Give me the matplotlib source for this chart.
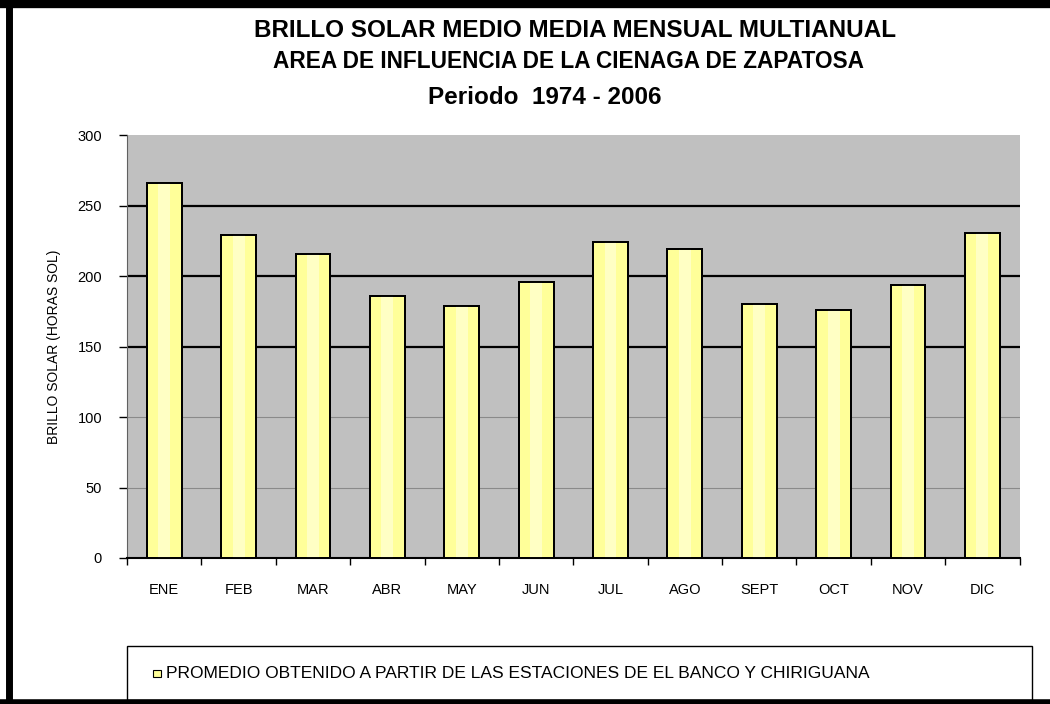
import matplotlib.pyplot as plt
import numpy as np
from matplotlib.lines import Line2D
from matplotlib.patches import Rectangle

plt.rcParams['font.family'] = ['Liberation Sans', 'DejaVu Sans']

meses = ['ENE', 'FEB', 'MAR', 'ABR', 'MAY', 'JUN', 'JUL', 'AGO', 'SEPT', 'OCT', 'NOV', 'DIC']
brillo = [266, 229, 216, 186, 179, 196, 224, 219, 180, 176, 194, 231]
yticks = [0, 50, 100, 150, 200, 250, 300]

titulo = ['BRILLO SOLAR MEDIO MEDIA MENSUAL MULTIANUAL',
          'AREA DE INFLUENCIA DE LA CIENAGA DE ZAPATOSA',
          'Periodo  1974 - 2006']
leyenda = 'PROMEDIO OBTENIDO A PARTIR DE LAS ESTACIONES DE EL BANCO Y CHIRIGUANA'

fig = plt.figure(figsize=(10.5, 7.04), dpi=100)
ax = fig.add_axes([0.121, 0.2074, 0.850, 0.6004])
ax.set_facecolor('#C0C0C0')

x = np.arange(len(meses))
ax.bar(x, brillo, width=0.47, color='#FFFF99', edgecolor='black', linewidth=1.4, zorder=3)
# lighter stripe down the middle of each bar
ax.bar(x, brillo, width=0.16, color='#FFFFC4', linewidth=0, zorder=3.5)
ax.bar(x, brillo, width=0.47, color='none', edgecolor='black', linewidth=1.4, zorder=4)

# gridlines: the upper ones are drawn heavier
for v in yticks[1:-1]:
    if v >= 150:
        ax.axhline(v, color='black', lw=1.6, zorder=1)
    else:
        ax.axhline(v, color='#8a8a8a', lw=0.8, zorder=1)

ax.set_xlim(-0.5, len(meses) - 0.5)
ax.set_ylim(0, 300)
ax.set_yticks(yticks)
ax.set_xticks(x)
ax.set_xticklabels(meses)
ax.set_xticks(np.arange(-0.5, len(meses)), minor=True)
ax.tick_params(axis='x', which='major', length=0, pad=18, labelsize=10.5)
ax.tick_params(axis='x', which='minor', length=5, width=1, direction='out')
ax.tick_params(axis='y', length=6, width=1, direction='out', pad=12, labelsize=10.5)

for s in ['top', 'right']:
    ax.spines[s].set_visible(False)
ax.spines['left'].set_color('#606060')
ax.spines['bottom'].set_color('black')
ax.spines['bottom'].set_linewidth(1.5)

ax.set_ylabel('BRILLO SOLAR (HORAS SOL)', fontsize=10, labelpad=12)

ys = [0.957, 0.912, 0.862]
xs = [0.548, 0.541, 0.519]
sizes = [17.5, 16.3, 17.5]
for t, xx, y, fs in zip(titulo, xs, ys, sizes):
    fig.text(xx, y, t, ha='center', va='center', fontsize=fs, fontweight='bold')

# legend box under the chart
fig.patches.append(Rectangle((0.121, 0.006), 0.862, 0.077, transform=fig.transFigure,
                             facecolor='white', edgecolor='black', lw=1.0))
fig.patches.append(Rectangle((0.146, 0.038), 0.007, 0.011, transform=fig.transFigure,
                             facecolor='#FFFF99', edgecolor='black', lw=0.8))
fig.text(0.158, 0.0435, leyenda, ha='left', va='center', fontsize=12.5)

# outer frame
fig.add_artist(Line2D([0.009, 0.009], [0, 1], transform=fig.transFigure, color='black', lw=5))
fig.add_artist(Line2D([0, 1], [0.994, 0.994], transform=fig.transFigure, color='black', lw=6))
fig.add_artist(Line2D([0, 1], [0.003, 0.003], transform=fig.transFigure, color='black', lw=4))

fig.savefig('out.png', dpi=100)
